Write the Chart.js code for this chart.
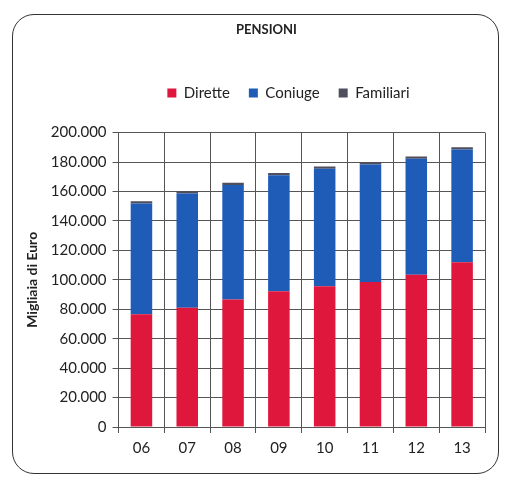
<!DOCTYPE html>
<html>
<head>
<meta charset="utf-8">
<script src="https://cdn.jsdelivr.net/npm/chart.js@4"></script>
<style>
html,body{margin:0;padding:0;background:#fff;}
#wrap{position:relative;width:507px;height:480px;}
#frame{position:absolute;left:12px;top:14px;width:487px;height:460px;border:1.5px solid #333;border-radius:22px;box-sizing:border-box;pointer-events:none;}
canvas{position:absolute;left:0;top:0;}
</style>
</head>
<body>
<div id="wrap">
<canvas id="c" width="507" height="480"></canvas>
<div id="frame"></div>
</div>
<script>
const categories = ['06','07','08','09','10','11','12','13'];
const dirette   = [76600, 81000, 86700, 92300, 95600, 98500, 103500, 112000];
const coniuge   = [75200, 77600, 77700, 78800, 79800, 79800, 78800, 76600];
const familiari = [1500, 1500, 1500, 1500, 1500, 1500, 1500, 1500];
const yTicks = [0,20000,40000,60000,80000,100000,120000,140000,160000,180000,200000];

const FONT = 'Lato, "Open Sans", sans-serif';
const fmt = v => v === 0 ? '0' : v.toString().replace(/\B(?=(\d{3})+(?!\d))/g, '.');

const legendMargin = {
  id: 'legendMargin',
  beforeInit(chart) {
    const fit = chart.legend.fit;
    chart.legend.fit = function() { fit.bind(chart.legend)(); this.height += 22; };
  },
  afterLayout(chart) {
    const d = 36;
    chart.legend.left += d; chart.legend.right += d;
    chart.titleBlock.left += 14; chart.titleBlock.right += 14;
  }
};

new Chart(document.getElementById('c'), {
  type: 'bar',
  data: {
    labels: categories,
    datasets: [
      {label:'Dirette', data: dirette, backgroundColor:'#df173d'},
      {label:'Coniuge', data: coniuge, backgroundColor:'#1e5cb8'},
      {label:'Familiari', data: familiari, backgroundColor:'#4e4e5e'}
    ]
  },
  options: {
    responsive:false,
    animation:false,
    devicePixelRatio:1,
    layout:{padding:{left:20,right:22,top:16,bottom:17}},
    datasets:{bar:{categoryPercentage:1, barPercentage:0.47}},
    plugins:{
      title:{display:true,text:'PENSIONI',color:'#222',font:{family:FONT,size:13,weight:'bold'},padding:{top:6,bottom:29}},
      legend:{position:'top',labels:{boxWidth:9,boxHeight:9,padding:19,color:'#222',font:{family:FONT,size:15}}},
      tooltip:{enabled:false}
    },
    scales:{
      x:{stacked:true,
        grid:{offset:true,color:'#555',lineWidth:1,tickLength:6,drawOnChartArea:true},
        border:{color:'#555'},
        ticks:{color:'#222',font:{family:FONT,size:15},padding:6}},
      y:{stacked:true,min:0,max:200000,
        afterBuildTicks(axis){ axis.ticks = yTicks.map(v=>({value:v})); },
        grid:{color:'#555',lineWidth:1,tickLength:6},
        border:{color:'#555'},
        ticks:{color:'#222',font:{family:FONT,size:15},padding:6,callback:v=>fmt(v)},
        title:{display:true,text:'Migliaia di Euro',color:'#222',font:{family:FONT,size:14,weight:'bold'},padding:{bottom:4}}}
    }
  },
  plugins:[legendMargin]
});
</script>
</body>
</html>
